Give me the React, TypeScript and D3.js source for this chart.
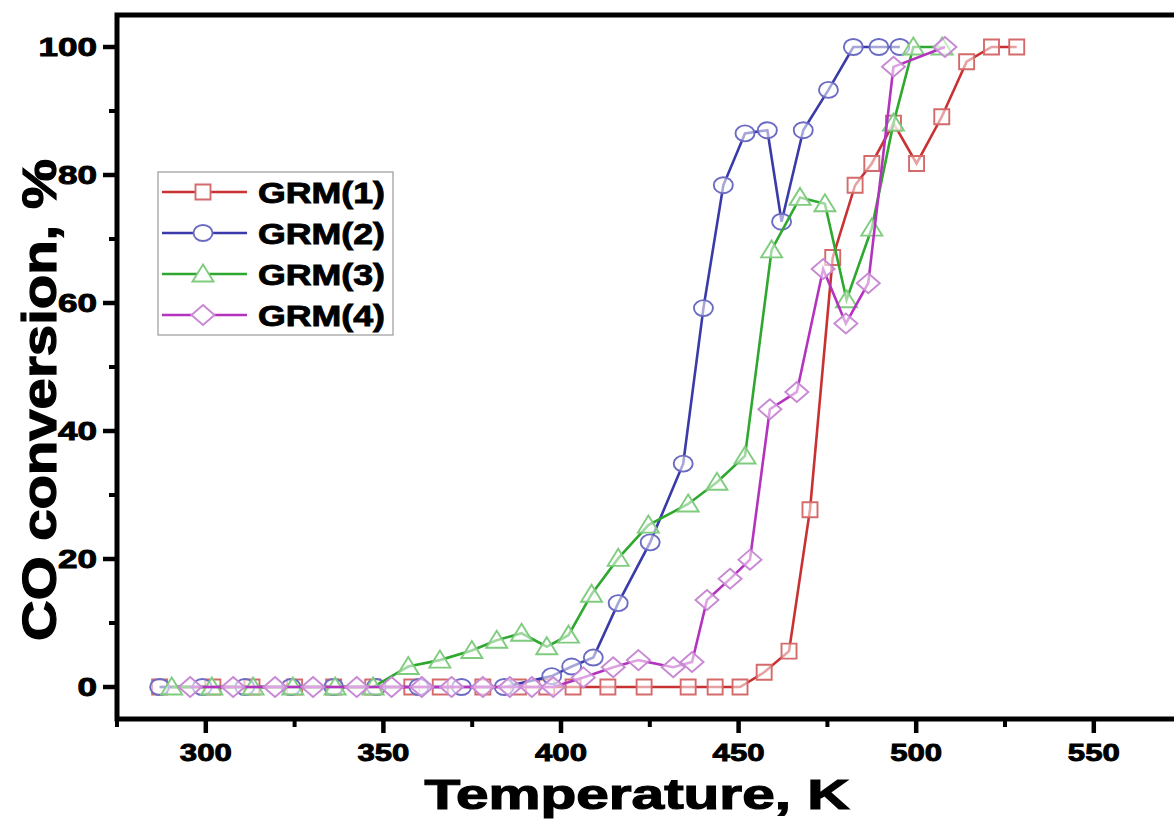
import React from "react";
import * as d3 from "d3";

const seriesNames = ["GRM(1)", "GRM(2)", "GRM(3)", "GRM(4)"];

const t1 = [287, 302, 313, 325, 336, 347, 358, 366, 378, 388, 396, 403.4, 413.2, 423.4, 435.8, 443.4, 450.4, 457.2, 464.2, 470.1, 476.5, 482.8, 487.5, 493.6, 500.1, 507.2, 514.2, 521.2, 528.3];
const v1 = [0, 0, 0, 0, 0, 0, 0, 0, 0, 0, 0, 0, 0, 0, 0, 0, 0, 2.3, 5.6, 27.7, 67.1, 78.4, 81.8, 88.1, 81.8, 89.1, 97.7, 100, 100];

const t2 = [287, 299, 311, 324, 336, 348, 360, 372, 384, 397.4, 403.0, 409.1, 416.1, 425.1, 434.4, 440.1, 445.7, 451.8, 458.1, 462.1, 468.2, 475.3, 482.3, 489.5, 495.4];
const v2 = [0, 0, 0, 0, 0, 0, 0, 0, 0, 1.7, 3.2, 4.6, 13.1, 22.6, 34.9, 59.2, 78.4, 86.5, 87.0, 72.7, 87.0, 93.3, 100, 100, 100];

const t3 = [290.4, 301.7, 313.3, 324.5, 336.4, 347.1, 357.0, 365.9, 374.9, 381.9, 388.9, 396.0, 402.1, 408.6, 416.1, 424.6, 435.8, 443.9, 451.8, 459.3, 467.3, 474.3, 480.4, 487.5, 493.6, 499.2, 507.3];
const v3 = [0, 0, 0, 0, 0, 0, 3.2, 4.2, 5.7, 7.3, 8.4, 6.3, 8.1, 14.5, 20.1, 25.3, 28.6, 32.0, 36.1, 68.3, 76.5, 75.5, 60.5, 71.7, 88.1, 100, 100];

const t4 = [295.6, 307.7, 319.5, 330.2, 342.5, 352.3, 360.8, 369.2, 378.0, 385.6, 391.8, 397.8, 406.3, 414.7, 421.8, 431.6, 436.9, 441.1, 447.6, 453.2, 458.8, 466.4, 473.8, 480.2, 486.5, 493.6, 508.1];
const v4 = [0, 0, 0, 0, 0, 0, 0, 0, 0, 0, 0, 0, 1.5, 3.1, 4.2, 3.1, 3.9, 13.6, 16.9, 19.9, 43.4, 46.1, 65.3, 56.8, 63.1, 96.9, 100];

const xMajor = [300, 350, 400, 450, 500, 550];
const xMinor = [275, 325, 375, 425, 475, 525, 575];
const yMajor = [0, 20, 40, 60, 80, 100];
const yMinor = [10, 30, 50, 70, 90];

const lineColors = ["#c83232", "#3a3aa8", "#2fa82f", "#b433be"];
const markColors = ["#d46a6a", "#6b6bc4", "#7fcc7f", "#c888d4"];
const shapes = ["square", "circle", "triangle", "diamond"];

function markerPath(shape: string, cx: number, cy: number): string {
  if (shape === "square") {
    const w = 7.5, h = 7.5;
    return `M${cx - w},${cy - h}H${cx + w}V${cy + h}H${cx - w}Z`;
  }
  if (shape === "circle") {
    const rx = 9.5, ry = 8;
    return `M${cx - rx},${cy}A${rx},${ry} 0 1,0 ${cx + rx},${cy}A${rx},${ry} 0 1,0 ${cx - rx},${cy}Z`;
  }
  if (shape === "triangle") {
    const w = 10.5, h = 8.5;
    return `M${cx},${cy - h - 1}L${cx + w},${cy + h - 1}L${cx - w},${cy + h - 1}Z`;
  }
  const w = 11.5, h = 10;
  return `M${cx},${cy - h}L${cx + w},${cy}L${cx},${cy + h}L${cx - w},${cy}Z`;
}

export default function App() {
  const W = 1174, H = 820;
  const x = d3.scaleLinear().domain([275, 575]).range([117, 117 + 300 * 3.552]);
  const y = d3.scaleLinear().domain([-5, 105]).range([719, 15]);
  const series = [
    { t: t1, v: v1 },
    { t: t2, v: v2 },
    { t: t3, v: v3 },
    { t: t4, v: v4 },
  ];
  const line = d3.line<[number, number]>().x((d) => x(d[0])).y((d) => y(d[1]));
  const font = "'Liberation Sans', Arial, sans-serif";
  const x0 = x(275), xr = x(575), yt = y(105), yb = y(-5);
  const heavy = { stroke: "#000", strokeWidth: 0.9 } as const;

  return (
    <svg width={W} height={H} style={{ position: "absolute", left: 0, top: 0, background: "#fff" }} fontFamily={font}>
      <rect x={0} y={0} width={W} height={H} fill="#fff" />
      <defs>
        <clipPath id="plot">
          <rect x={x0} y={yt} width={xr - x0} height={yb - yt} />
        </clipPath>
      </defs>
      <g clipPath="url(#plot)">
        {series.map((s, i) => {
          const pts = s.t.map((tt, j) => [tt, s.v[j]] as [number, number]);
          return (
            <g key={i}>
              <path d={line(pts) || ""} fill="none" stroke={lineColors[i]} strokeWidth={2.6} />
              {pts.map((p, j) => (
                <path key={j} d={markerPath(shapes[i], x(p[0]), y(p[1]))} fill="#fff" fillOpacity={0.55} stroke={markColors[i]} strokeWidth={1.9} />
              ))}
            </g>
          );
        })}
      </g>
      <rect x={x0} y={yt} width={xr - x0} height={yb - yt} fill="none" stroke="#000" strokeWidth={5} />
      {xMajor.map((v) => (
        <g key={"xm" + v}>
          <line x1={x(v)} x2={x(v)} y1={yb} y2={yb + 14} stroke="#000" strokeWidth={4.5} />
          <text x={x(v)} y={761} textAnchor="middle" fontSize={24} fontWeight="bold" textLength={52} lengthAdjust="spacingAndGlyphs" {...heavy}>{v}</text>
        </g>
      ))}
      {xMinor.map((v) => (
        <line key={"xn" + v} x1={x(v)} x2={x(v)} y1={yb} y2={yb + 8} stroke="#000" strokeWidth={4} />
      ))}
      {yMajor.map((v) => (
        <g key={"ym" + v}>
          <line x1={x0} x2={x0 - 14} y1={y(v)} y2={y(v)} stroke="#000" strokeWidth={4.5} />
          <text x={97} y={y(v) + 9} textAnchor="end" fontSize={25} fontWeight="bold" textLength={String(v).length * 19.5} lengthAdjust="spacingAndGlyphs" {...heavy}>{v}</text>
        </g>
      ))}
      {yMinor.map((v) => (
        <line key={"yn" + v} x1={x0} x2={x0 - 8} y1={y(v)} y2={y(v)} stroke="#000" strokeWidth={4} />
      ))}
      <text x={637} y={809} textAnchor="middle" fontSize={42} fontWeight="bold" textLength={425} lengthAdjust="spacingAndGlyphs" stroke="#000" strokeWidth={1.2}>Temperature, K</text>
      <text transform={`translate(56,400) rotate(-90)`} textAnchor="middle" fontSize={48} fontWeight="bold" textLength={482} lengthAdjust="spacingAndGlyphs" stroke="#000" strokeWidth={1.2}>CO conversion, %</text>
      <g>
        <rect x={158} y={172} width={235} height={163} fill="#fff" stroke="#9a9a9a" strokeWidth={1.2} />
        {seriesNames.map((n, i) => {
          const ly = 192 + i * 41;
          return (
            <g key={n}>
              <line x1={162} x2={247} y1={ly} y2={ly} stroke={lineColors[i]} strokeWidth={2.6} />
              <path d={markerPath(shapes[i], 203, ly)} fill="#fff" stroke={markColors[i]} strokeWidth={1.9} />
              <text x={258} y={ly + 11} fontSize={30} fontWeight="bold" textLength={127} lengthAdjust="spacingAndGlyphs" {...heavy}>{n}</text>
            </g>
          );
        })}
      </g>
    </svg>
  );
}
